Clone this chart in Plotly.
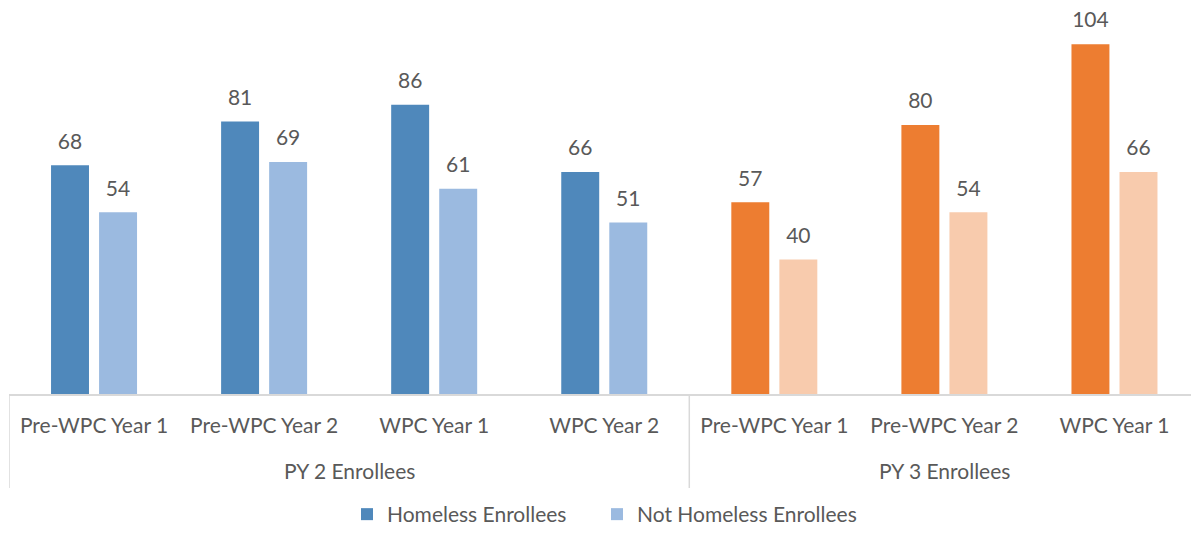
import plotly.graph_objects as go

groups = ["PY 2 Enrollees"] * 4 + ["PY 3 Enrollees"] * 3
categories = ["Pre-WPC Year 1", "Pre-WPC Year 2", "WPC Year 1", "WPC Year 2",
              "Pre-WPC Year 1", "Pre-WPC Year 2", "WPC Year 1"]
homeless = [68, 81, 86, 66, 57, 80, 104]
not_homeless = [54, 69, 61, 51, 40, 54, 66]

homeless_colors = ["#4F88BB"] * 4 + ["#ED7D31"] * 3
not_homeless_colors = ["#9BBAE0"] * 4 + ["#F8CBAD"] * 3

FONT = "Lato"
TXT = "#595959"
LINE = "#D9D9D9"
LBL = "<span style='font-size:21px'>%{y}</span><br> "

pos = list(range(len(categories)))

fig = go.Figure()
fig.add_trace(go.Bar(
    x=pos, y=homeless, name="Homeless Enrollees", legend="legend",
    marker=dict(color=homeless_colors, line=dict(width=0)),
    texttemplate=LBL, textposition="outside", constraintext="none",
    textfont=dict(family=FONT, size=9, color=TXT), cliponaxis=False,
))
fig.add_trace(go.Bar(
    x=pos, y=not_homeless, name="Not Homeless Enrollees", legend="legend2",
    marker=dict(color=not_homeless_colors, line=dict(width=0)),
    texttemplate=LBL, textposition="outside", constraintext="none",
    textfont=dict(family=FONT, size=9, color=TXT), cliponaxis=False,
))

# group dividers and group labels
group_names = []
for g in groups:
    if g not in group_names:
        group_names.append(g)
shapes = []
annotations = []
for g in group_names:
    idx = [i for i, gg in enumerate(groups) if gg == g]
    start = min(idx) - 0.5
    shapes.append(dict(type="line", xref="x", yref="paper", x0=start, x1=start,
                       y0=0, y1=-0.254, line=dict(color=LINE, width=1.5)))
    annotations.append(dict(xref="x", yref="paper", x=sum(idx) / len(idx), y=-0.208,
                            text=g, showarrow=False, yanchor="middle",
                            font=dict(family=FONT, size=21, color=TXT)))

legend_common = dict(orientation="h", xref="container", yref="container",
                     xanchor="left", y=-0.013, yanchor="bottom",
                     font=dict(family=FONT, size=21, color=TXT), itemclick=False)

fig.update_layout(
    width=1191, height=535,
    margin=dict(l=9, r=0, t=24, b=141),
    paper_bgcolor="white", plot_bgcolor="white",
    barmode="group", bargap=0.435, bargroupgap=0.21,
    font=dict(family=FONT, size=21, color=TXT),
    showlegend=True,
    legend=dict(x=(347 / 1191), **legend_common),
    legend2=dict(x=(597 / 1191), **legend_common),
    xaxis=dict(range=[-0.5, 6.45], showline=True, linecolor=LINE, linewidth=1.5,
               showgrid=False, zeroline=False, tickmode="array", tickvals=pos,
               ticktext=categories, ticks="outside", ticklen=12,
               tickcolor="rgba(0,0,0,0)",
               tickfont=dict(family=FONT, size=21, color=TXT)),
    yaxis=dict(range=[0, 110], visible=False, showgrid=False, zeroline=False),
    shapes=shapes, annotations=annotations,
)

fig.write_html("out.html", config={"displayModeBar": False},
               post_script="document.body.style.margin='0';")
